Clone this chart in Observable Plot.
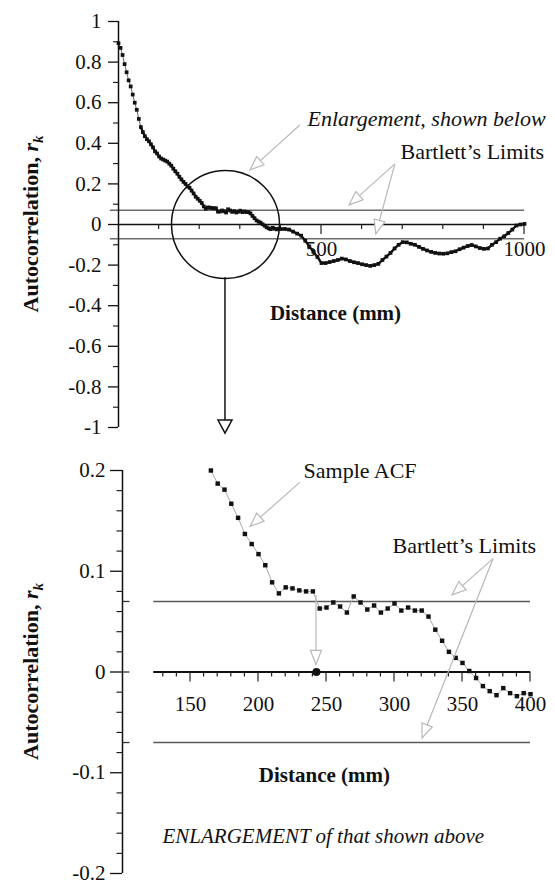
<!DOCTYPE html>
<html><head><meta charset="utf-8">
<script src="https://cdn.jsdelivr.net/npm/d3@7"></script>
<script src="https://cdn.jsdelivr.net/npm/@observablehq/plot@0.6"></script>
<style>
body{margin:0;background:#fff;}
#c{width:555px;}
svg{display:block;overflow:visible;}
svg text{font-family:"Liberation Serif","Times New Roman",serif !important;}
</style></head><body><div id="c"></div>
<script>
// ---- data: sample autocorrelation function (lag distance in mm, r_k) ----
const lagMm = [0,5,10,15,20,25,30,35,40,45,50,55,60,65,70,75,80,85,90,95,100,105,110,115,120,125,130,135,140,145,150,155,160,
165,170,175,180,185,190,195,200,205,210,215,220,225,230,235,240,245,250,255,260,265,270,275,280,285,290,295,300,305,310,315,320,325,330,335,340,345,350,355,360,365,370,375,380,385,390,395,400,
410,420,430,440,450,460,470,480,490,500,510,520,530,540,550,560,570,580,590,600,610,620,630,640,650,660,670,680,690,700,
710,720,730,740,750,760,770,780,790,800,810,820,830,840,850,860,870,880,890,900,910,920,930,940,950,960,970,980,990,1000];
const acf = [0.893,0.87,0.835,0.79,0.75,0.71,0.68,0.64,0.60,0.565,0.52,0.48,0.455,0.435,0.42,0.41,0.395,0.38,0.36,0.35,0.335,0.325,0.32,0.315,0.31,0.30,0.29,0.275,0.262,0.25,0.235,0.222,0.21,
0.200,0.187,0.181,0.167,0.153,0.137,0.127,0.117,0.106,0.089,0.078,0.084,0.083,0.081,0.080,0.080,0.063,0.064,0.069,0.065,0.059,0.075,0.069,0.062,0.066,0.059,0.063,0.068,0.061,0.064,0.061,0.061,0.055,0.042,0.031,0.020,0.014,0.009,0.001,-0.006,-0.014,-0.019,-0.023,-0.016,-0.021,-0.024,-0.021,-0.022,
-0.022,-0.025,-0.035,-0.045,-0.055,-0.08,-0.108,-0.135,-0.16,-0.19,-0.19,-0.185,-0.18,-0.175,-0.168,-0.172,-0.18,-0.186,-0.19,-0.196,-0.2,-0.204,-0.2,-0.194,-0.175,-0.158,-0.14,-0.118,-0.1,-0.087,
-0.088,-0.095,-0.1,-0.11,-0.12,-0.128,-0.135,-0.14,-0.143,-0.144,-0.142,-0.136,-0.132,-0.122,-0.114,-0.106,-0.101,-0.108,-0.116,-0.12,-0.118,-0.1,-0.087,-0.07,-0.058,-0.042,-0.025,-0.005,0.0,0.003];
const bartlettLimit = 0.07;

// ---- tick values ----
const topYTicks = [1,0.8,0.6,0.4,0.2,0,-0.2,-0.4,-0.6,-0.8,-1];
const topYMinor = [0.9,0.7,0.5,0.3,0.1,-0.1,-0.3,-0.5,-0.7,-0.9];
const topXLabels = [500,1000];
const topXMinor = [100,200,300,400,600,700,800,900];
const botYTicks = [0.2,0.1,0,-0.1,-0.2];
const botYMinor = [0.18,0.16,0.14,0.12,0.08,0.06,0.04,0.02,-0.02,-0.04,-0.06,-0.08,-0.12,-0.14,-0.16,-0.18];
const botXLabels = [150,200,250,300,350,400];
const botXMinor = [130,140,160,170,180,190,210,220,230,240,260,270,280,290,310,320,330,340,360,370,380,390];

// ---- annotations (data coordinates) ----
const zoomCircle = [{x: 263.5, y: 0}];
const topGrayArrows = [
  {x1: 448, y1: 0.488, x2: 325, y2: 0.266},
  {x1: 682, y1: 0.296, x2: 569, y2: 0.094},
  {x1: 682, y1: 0.296, x2: 635, y2: -0.049}
];
const topBlackArrow = [{x1: 263.5, y1: -0.262, x2: 263.5, y2: -1.03}];
const topTexts = [
  {x: 465.5, y: 0.522, t: "Enlargement, shown below", style: "italic", weight: "normal", anchor: "start", size: 22},
  {x: 694.6, y: 0.355, t: "Bartlett\u2019s Limits", style: "normal", weight: "normal", anchor: "start", size: 22},
  {x: 534.5, y: -0.438, t: "Distance (mm)", style: "normal", weight: "bold", anchor: "middle", size: 21}
];
const botGrayArrows = [
  {x1: 230.9, y1: 0.188, x2: 194.1, y2: 0.144},
  {x1: 372.8, y1: 0.112, x2: 342.6, y2: 0.076},
  {x1: 372.8, y1: 0.112, x2: 320.6, y2: -0.066},
  {x1: 242.6, y1: 0.076, x2: 242.6, y2: 0.007}
];
const botMarker = [{x: 242.6, y: 0}];
const botTexts = [
  {x: 233.1, y: 0.2, t: "Sample ACF", style: "normal", weight: "normal", anchor: "start", size: 22},
  {x: 298.5, y: 0.125, t: "Bartlett\u2019s Limits", style: "normal", weight: "normal", anchor: "start", size: 22},
  {x: 248.5, y: -0.1024, t: "Distance (mm)", style: "normal", weight: "bold", anchor: "middle", size: 21},
  {x: 129.4, y: -0.163, t: "ENLARGEMENT of that shown above", style: "italic", weight: "normal", anchor: "start", size: 21}
];

const series = lagMm.map((d, i) => ({x: d, y: acf[i]}));
const enlarged = series.filter(d => d.x >= 100 && d.x <= 400 && d.y <= 0.2);

const FONT = "'Liberation Serif', 'Times New Roman', serif";
const NS = "http://www.w3.org/2000/svg";
function el(tag, attrs) { const e = document.createElementNS(NS, tag); for (const k in attrs) e.setAttribute(k, attrs[k]); return e; }

function arrowMark(list, {stroke = "#b8b8b8", strokeWidth = 1.2, headLength = 14, headWidth = 11, fill = "white"} = {}) {
  return (index, scales) => {
    const g = el("g", {fill: "none", stroke, "stroke-width": strokeWidth});
    for (const a of list) {
      const x1 = scales.x(a.x1), y1 = scales.y(a.y1), x2 = scales.x(a.x2), y2 = scales.y(a.y2);
      const L = Math.hypot(x2 - x1, y2 - y1), ux = (x2 - x1) / L, uy = (y2 - y1) / L;
      const bx = x2 - ux * headLength, by = y2 - uy * headLength;
      const px = -uy * headWidth / 2, py = ux * headWidth / 2;
      g.append(el("line", {x1, y1, x2: bx, y2: by}));
      g.append(el("polygon", {points: `${x2},${y2} ${bx + px},${by + py} ${bx - px},${by - py}`, fill}));
    }
    return g;
  };
}
function zeroTicks(ticks, len, yv, sw = 1.2) {
  return (index, scales) => {
    const g = el("g", {stroke: "#222", "stroke-width": sw});
    for (const t of ticks) {
      const px = scales.x(t), py = scales.y(yv);
      g.append(el("line", {x1: px, x2: px, y1: py, y2: py + len}));
    }
    return g;
  };
}
function yLabel(xpx, yv) {
  return (index, scales) => {
    const py = scales.y(yv);
    const t = el("text", {transform: `translate(${xpx},${py}) rotate(-90)`, "text-anchor": "middle",
      "font-family": FONT, "font-size": 22, "font-weight": "bold", fill: "#111"});
    const a = el("tspan", {}); a.textContent = "Autocorrelation, ";
    const r = el("tspan", {"font-style": "italic"}); r.textContent = "r";
    const k = el("tspan", {"font-style": "italic", "font-size": 15, dy: 5}); k.textContent = "k";
    t.append(a, r, k);
    return t;
  };
}
function textMarks(list) {
  return list.map(d => Plot.text([d], {x: "x", y: "y", text: "t", fontSize: d.size,
    fontStyle: d.style, fontWeight: d.weight, textAnchor: d.anchor, fill: "#111"}));
}

// ---- top chart ----
const topChart = Plot.plot({
  width: 555, height: 440,
  marginLeft: 118, marginRight: 31, marginTop: 21, marginBottom: 13,
  style: {background: "white", color: "#111", overflow: "visible"},
  x: {domain: [0, 1000], axis: null},
  y: {domain: [-1, 1]},
  marks: [
    Plot.ruleY([bartlettLimit, -bartlettLimit], {x1: -20, x2: 1000, stroke: "#6a6a6a", strokeWidth: 1.5}),
    Plot.ruleY([0], {x1: 0, x2: 1000, stroke: "#111", strokeWidth: 1.5}),
    Plot.ruleX([0], {y1: -1, y2: 1, stroke: "#111", strokeWidth: 1.5}),
    Plot.axisY({ticks: topYTicks, tickSize: 10, tickPadding: 7, fontSize: 21, tickFormat: d => String(d), label: null, strokeWidth: 1.3}),
    Plot.axisY({ticks: topYMinor, tickSize: 5, tickFormat: () => "", label: null, strokeWidth: 1.1}),
    zeroTicks(topXMinor, 5, 0),
    zeroTicks(topXLabels, 10, 0),
    Plot.text(topXLabels, {x: d => d, y: 0, dy: 25, text: d => String(d), fontSize: 21, fill: "#111"}),
    Plot.dot(zoomCircle, {x: "x", y: "y", r: 54, stroke: "#111", strokeWidth: 1.5, fill: "none"}),
    Plot.line(series, {x: "x", y: "y", stroke: "#666", strokeWidth: 1}),
    Plot.line(series.filter(d => d.x >= 55), {x: "x", y: "y", stroke: "#111", strokeWidth: 2.4}),
    Plot.dot(series, {x: "x", y: "y", symbol: "square", r: 2.1, fill: "#111", stroke: "none"}),
    arrowMark(topGrayArrows),
    arrowMark(topBlackArrow, {stroke: "#111", strokeWidth: 1.5, headLength: 13, headWidth: 14}),
    ...textMarks(topTexts),
    yLabel(38, 0)
  ]
});
// ---- bottom chart ----
const bottomChart = Plot.plot({
  width: 555, height: 446,
  marginLeft: 122, marginRight: 25, marginTop: 30, marginBottom: 13,
  style: {background: "white", color: "#111", overflow: "visible"},
  x: {domain: [100, 400], axis: null},
  y: {domain: [-0.2, 0.2]},
  marks: [
    Plot.ruleY([bartlettLimit, -bartlettLimit], {x1: 123, x2: 400, stroke: "#5a5a5a", strokeWidth: 1.5}),
    Plot.ruleY([bartlettLimit, 0, -bartlettLimit], {x1: 100, x2: 105.5, stroke: "#333", strokeWidth: 1.3}),
    Plot.ruleY([0], {x1: 123, x2: 400, stroke: "#111", strokeWidth: 2}),
    Plot.ruleX([100], {y1: -0.2, y2: 0.2, stroke: "#111", strokeWidth: 1.5}),
    Plot.axisY({ticks: botYTicks, tickSize: 12, tickPadding: 5, fontSize: 21, tickFormat: d => String(d), label: null, strokeWidth: 1.3}),
    Plot.axisY({ticks: botYMinor, tickSize: 5.5, tickFormat: () => "", label: null, strokeWidth: 1.1}),
    zeroTicks(botXMinor, 5, 0),
    zeroTicks(botXLabels, 10, 0),
    Plot.text(botXLabels, {x: d => d, y: 0, dy: 32, text: d => String(d), fontSize: 21, fill: "#111"}),
    Plot.line(enlarged, {x: "x", y: "y", stroke: "#aaa", strokeWidth: 1}),
    Plot.dot(enlarged, {x: "x", y: "y", symbol: "square", r: 2.5, fill: "#111", stroke: "none"}),
    arrowMark(botGrayArrows),
    Plot.dot(botMarker, {x: "x", y: "y", r: 4, fill: "#111"}),
    ...textMarks(botTexts),
    yLabel(38, 0)
  ]
});
document.getElementById("c").append(topChart, bottomChart);
</script>
</body></html>
